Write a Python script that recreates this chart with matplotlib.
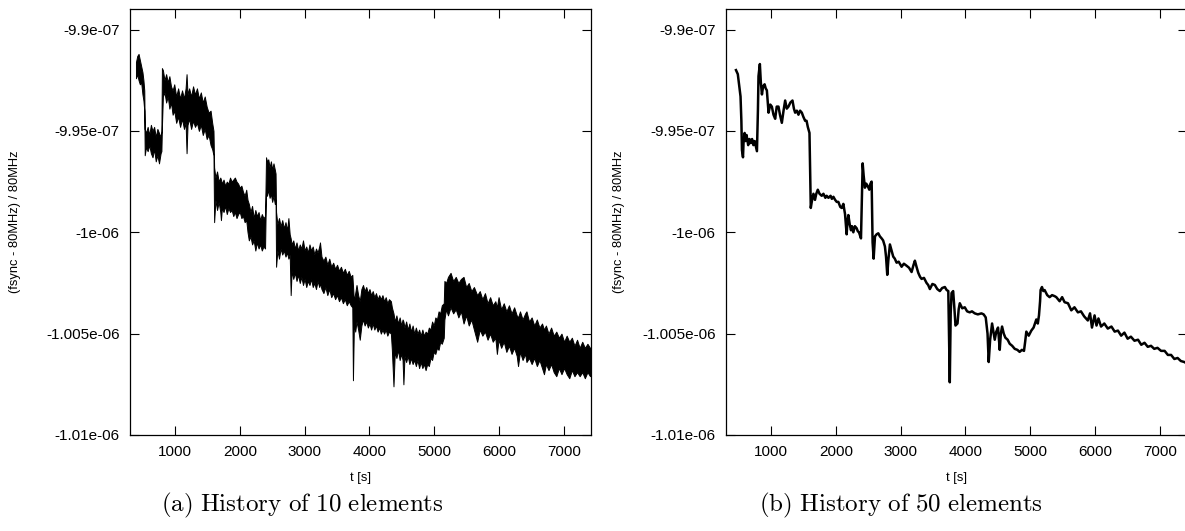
import numpy as np
import matplotlib
matplotlib.use('Agg')
import matplotlib.pyplot as plt
from matplotlib.ticker import FixedLocator

plt.rcParams['font.family'] = ['Liberation Sans', 'DejaVu Sans']
plt.rcParams['mathtext.fontset'] = 'cm'

SCALE = 1e-9  # values below are in units of 1e-9

# history of 10 elements: time and upper/lower edge of the noisy trace
t10 = [400, 420, 440, 460, 480, 500, 515, 528,
       535, 555, 580, 605, 630, 655, 680, 705, 730, 755, 780, 792,
       800,
       815, 840, 865, 890, 915, 940, 965, 990, 1020, 1050, 1080, 1110, 1140,
       1165, 1180, 1195, 1220, 1250, 1280, 1310, 1340, 1370, 1400, 1430, 1460,
       1490, 1520, 1550, 1575, 1595,
       1605, 1625, 1650, 1675, 1700, 1710, 1725, 1750, 1775, 1800, 1825, 1850,
       1875, 1900, 1925, 1950, 1975, 2000, 2025, 2050, 2075, 2100, 2120, 2140,
       2165, 2190, 2215, 2240, 2265, 2290, 2315, 2340, 2365, 2390,
       2405, 2420, 2440, 2460, 2480, 2500, 2520, 2540, 2552,
       2560, 2580, 2605, 2630, 2655, 2680, 2705, 2730, 2750, 2770, 2785, 2800,
       2825, 2850, 2875, 2900, 2925, 2950, 2975, 3000, 3025, 3050, 3075, 3100,
       3125, 3150, 3175, 3200, 3225, 3237, 3260, 3290, 3320, 3350, 3380, 3410,
       3440, 3470, 3500, 3530, 3560, 3590, 3620, 3650, 3680, 3710, 3735,
       3745,
       3760, 3780, 3800, 3825, 3850, 3875, 3900, 3925, 3950, 3975, 4000, 4025,
       4050, 4075, 4100, 4125, 4150, 4175, 4200, 4225, 4250, 4275, 4300, 4330,
       4345, 4370, 4390, 4415, 4440, 4465, 4490, 4510, 4523, 4540, 4565, 4590,
       4615, 4640, 4665, 4690, 4715, 4740, 4765, 4790, 4815, 4840, 4865, 4890,
       4915, 4940, 4965, 4990, 5015, 5040, 5065, 5090, 5115, 5145,
       5155, 5180, 5210, 5250, 5290, 5330, 5370, 5410, 5450, 5490, 5530, 5570,
       5610, 5660, 5700, 5740, 5780, 5820, 5860, 5900, 5940, 5964, 5990, 6030,
       6070, 6110, 6150, 6190, 6230, 6270, 6290, 6320, 6360, 6400, 6420, 6460,
       6500, 6540, 6580, 6620, 6660, 6690, 6720, 6760, 6800, 6840, 6880, 6920,
       6960, 7000, 7040, 7080, 7120, 7160, 7200, 7240, 7280, 7320, 7360, 7400]
hi10 = [-991.6, -991.3, -991.2, -991.5, -991.8, -992.1, -992.5, -993.0,
        -994.9, -995.1, -994.8, -995.2, -994.7, -995.0, -994.8, -995.3, -994.9,
        -995.1, -995.3, -995.0,
        -991.9,
        -992.0, -992.5, -992.2, -992.6, -992.3, -992.8, -993.0, -992.7, -993.3,
        -992.9, -993.4, -993.0, -993.4, -992.9, -992.2, -993.2, -992.9, -993.3,
        -992.8, -993.2, -992.9, -993.4, -993.1, -993.6, -993.3, -993.8, -994.1,
        -994.0, -994.6, -995.0,
        -996.8, -997.3, -997.0, -997.5, -997.3, -997.4, -997.6, -997.4, -997.7,
        -997.5, -997.6, -997.3, -997.5, -997.4, -997.3, -997.5, -997.6, -997.8,
        -997.7, -998.0, -998.2, -997.9, -998.4, -998.6, -999.0, -998.7, -999.3,
        -998.9, -999.2, -999.0, -999.4, -999.1, -999.3, -999.2,
        -996.3, -996.5, -996.4, -996.8, -996.5, -996.9, -996.6, -996.9, -997.1,
        -999.0, -999.6, -999.3, -999.7, -999.4, -999.8, -999.5, -999.9, -999.3,
        -1000.1, -1000.3, -1000.6, -1000.4, -1000.8, -1000.5, -1000.9, -1000.6,
        -1000.8, -1000.4, -1000.9, -1000.7, -1001.0, -1000.6, -1000.9, -1000.7,
        -1001.1, -1000.8, -1001.0, -1000.7, -1000.5, -1001.2, -1001.4, -1001.2,
        -1001.6, -1001.3, -1001.7, -1001.5, -1001.8, -1001.6, -1001.9, -1001.7,
        -1002.0, -1001.8, -1002.1, -1001.9, -1002.2, -1002.1,
        -1002.6,
        -1003.4, -1003.0, -1002.6, -1003.1, -1003.4, -1002.8, -1002.6, -1002.9,
        -1002.7, -1003.0, -1002.8, -1003.1, -1002.9, -1003.2, -1003.0, -1003.3,
        -1003.1, -1003.3, -1003.1, -1003.4, -1003.2, -1003.5, -1003.3, -1003.4,
        -1003.7, -1004.0, -1004.4, -1004.1, -1004.5, -1004.2, -1004.6, -1004.3,
        -1004.4, -1004.7, -1004.4, -1004.8, -1004.5, -1004.9, -1004.6, -1005.0,
        -1004.7, -1005.0, -1004.8, -1005.1, -1004.8, -1005.1, -1004.9, -1005.0,
        -1004.7, -1004.8, -1004.4, -1004.6, -1004.2, -1004.3, -1003.9, -1004.0,
        -1003.6, -1003.5,
        -1002.4, -1002.5, -1002.2, -1002.0, -1002.4, -1002.2, -1002.5, -1002.3,
        -1002.2, -1002.7, -1002.5, -1002.9, -1002.7, -1003.1, -1002.9, -1003.3,
        -1003.0, -1003.5, -1003.2, -1003.6, -1003.4, -1003.7, -1003.2, -1003.8,
        -1003.5, -1003.9, -1003.6, -1004.0, -1003.7, -1004.1, -1004.2, -1003.9,
        -1004.3, -1004.0, -1003.9, -1004.4, -1004.2, -1004.6, -1004.3, -1004.7,
        -1004.5, -1004.8, -1004.6, -1005.0, -1004.7, -1005.1, -1004.9, -1005.2,
        -1005.0, -1005.4, -1005.1, -1005.4, -1005.2, -1005.6, -1005.3, -1005.7,
        -1005.4, -1005.7, -1005.5, -1005.7]
lo10 = [-992.4, -992.2, -992.5, -992.7, -992.6, -993.2, -993.5, -994.0,
        -996.2, -995.8, -996.0, -995.7, -996.1, -996.3, -995.9, -996.5, -996.2,
        -996.6, -996.1, -996.0,
        -994.8,
        -993.3, -993.1, -993.6, -993.3, -993.9, -993.6, -994.2, -994.0, -994.6,
        -994.3, -994.8, -994.4, -994.9, -994.6, -996.1, -994.7, -994.4, -994.9,
        -994.5, -994.8, -994.6, -995.0, -994.7, -995.2, -994.9, -995.4, -995.2,
        -995.7, -995.9, -996.2,
        -999.5, -998.4, -998.9, -998.5, -999.0, -999.4, -998.8, -999.0, -998.7,
        -999.1, -998.8, -999.0, -998.9, -999.2, -999.0, -999.3, -999.1, -999.0,
        -999.3, -999.2, -999.5, -999.4, -1000.0, -1000.4, -1000.2, -1000.6,
        -1000.4, -1000.9, -1000.5, -1000.8, -1000.6, -1000.9, -1000.7, -1000.8,
        -997.9, -998.2, -997.9, -998.3, -998.1, -998.5, -998.2, -998.6, -998.4,
        -1001.7, -1000.9, -1001.3, -1000.8, -1001.1, -1000.9, -1001.2, -1001.0,
        -1001.3, -1001.1, -1003.1, -1001.9, -1002.3, -1002.0, -1002.4, -1002.1,
        -1002.5, -1002.2, -1002.6, -1002.3, -1002.7, -1002.4, -1002.6, -1002.3,
        -1002.7, -1002.5, -1002.8, -1002.4, -1002.7, -1002.5, -1002.8, -1003.0,
        -1002.7, -1003.1, -1002.8, -1003.2, -1003.0, -1003.3, -1003.1, -1003.4,
        -1003.2, -1003.5, -1003.3, -1003.6, -1003.4, -1003.6, -1003.7,
        -1007.3,
        -1004.5, -1004.9, -1004.4, -1004.8, -1005.3, -1004.6, -1004.3, -1004.6,
        -1004.4, -1004.7, -1004.5, -1004.8, -1004.5, -1004.8, -1004.6, -1004.9,
        -1004.7, -1005.0, -1004.8, -1005.0, -1004.8, -1005.1, -1004.9, -1005.0,
        -1005.8, -1007.6, -1005.9, -1006.2, -1005.8, -1006.3, -1006.0, -1006.3,
        -1007.5, -1006.1, -1006.4, -1006.1, -1006.5, -1006.2, -1006.5, -1006.3,
        -1006.6, -1006.3, -1006.7, -1006.4, -1006.7, -1006.5, -1006.8, -1006.5,
        -1006.6, -1006.2, -1006.3, -1005.9, -1006.0, -1005.7, -1005.8, -1005.4,
        -1005.5, -1005.2,
        -1004.3, -1003.8, -1004.1, -1003.7, -1004.0, -1003.8, -1004.2, -1003.9,
        -1004.5, -1004.1, -1004.6, -1004.3, -1004.8, -1005.4, -1004.8, -1005.1,
        -1004.9, -1005.3, -1005.0, -1005.4, -1005.2, -1006.0, -1005.3, -1005.7,
        -1005.4, -1005.9, -1005.6, -1006.0, -1005.7, -1006.1, -1006.6, -1005.9,
        -1006.3, -1006.0, -1006.4, -1006.2, -1006.5, -1006.2, -1006.6, -1006.3,
        -1006.7, -1007.0, -1006.5, -1006.8, -1006.5, -1006.9, -1007.1, -1006.7,
        -1007.0, -1006.7, -1007.0, -1007.2, -1006.8, -1007.1, -1006.9, -1007.1,
        -1006.9, -1007.2, -1006.9, -1007.1]

# history of 50 elements
t50 = [462, 490, 512, 532, 545, 554, 570, 578, 595, 610, 625, 650, 670, 690,
       710, 730, 750, 770, 785, 800, 809, 830, 845, 862, 880, 903, 920, 938,
       964, 990, 1015, 1040, 1066, 1090, 1117, 1140, 1169, 1195, 1220, 1245,
       1271, 1300, 1333, 1355, 1374, 1400, 1425, 1450, 1477, 1500, 1528, 1550,
       1569, 1595, 1605, 1615, 1630, 1656, 1680, 1700, 1723, 1750, 1784, 1810,
       1840, 1860, 1887, 1920, 1940, 1964, 1990, 2015, 2040, 2070, 2092, 2117,
       2143, 2168, 2180, 2194, 2215, 2235, 2250, 2271, 2295, 2322, 2340, 2358,
       2389, 2405, 2415, 2430, 2450, 2470, 2490, 2517, 2535, 2553, 2568, 2584,
       2605, 2630, 2656, 2680, 2707, 2730, 2758, 2775, 2794, 2810, 2835, 2860,
       2886, 2910, 2938, 2970, 3015, 3050, 3092, 3130, 3169, 3200, 3220, 3245,
       3272, 3300, 3323, 3360, 3400, 3425, 3451, 3490, 3528, 3565, 3605, 3640,
       3682, 3710, 3735, 3758, 3772, 3785, 3810, 3830, 3846, 3877, 3895, 3912,
       3950, 3989, 4025, 4066, 4100, 4143, 4190, 4246, 4280, 4312, 4340, 4358,
       4380, 4410, 4430, 4451, 4475, 4502, 4528, 4545, 4564, 4590, 4615, 4650,
       4682, 4720, 4759, 4800, 4835, 4870, 4902, 4920, 4938, 4975, 5015, 5050,
       5092, 5115, 5133, 5150, 5158, 5179, 5200, 5220, 5260, 5297, 5335, 5374,
       5400, 5451, 5490, 5528, 5580, 5631, 5680, 5733, 5780, 5830, 5886, 5920,
       5950, 5990, 6020, 6050, 6090, 6140, 6194, 6250, 6300, 6350, 6400, 6450,
       6500, 6550, 6605, 6660, 6710, 6760, 6810, 6860, 6910, 6960, 7015, 7070,
       7120, 7170, 7220, 7270, 7320, 7374, 7400]
y50 = [-992.0, -992.2, -992.8, -993.3, -994.5, -995.95, -996.3, -995.6, -995.1,
       -995.5, -995.2, -995.7, -995.4, -995.6, -995.4, -995.7, -995.5, -995.8,
       -996.0, -994.0, -992.3, -991.7, -992.6, -993.2, -992.8, -992.7, -992.9,
       -993.0, -994.1, -993.7, -993.8, -994.2, -994.4, -993.8, -993.8, -994.2,
       -994.6, -994.0, -993.5, -993.9, -993.8, -993.6, -993.5, -993.9, -994.1,
       -994.0, -994.2, -994.0, -994.1, -994.3, -994.5, -994.5, -994.8, -995.1,
       -997.0, -998.8, -998.5, -998.1, -998.4, -998.1, -997.9, -998.1, -998.2,
       -998.1, -998.3, -998.2, -998.3, -998.2, -998.35, -998.25, -998.4, -998.5,
       -998.5, -998.75, -998.8, -998.6, -999.1, -1000.1, -999.5, -999.15,
       -999.6, -999.9, -999.7, -1000.0, -999.7, -999.8, -999.95, -1000.0,
       -1000.3, -998.0, -996.6, -997.2, -997.8, -997.6, -997.7, -997.9, -997.6,
       -997.5, -1000.5, -1001.3, -1000.2, -1000.1, -1000.05, -1000.2, -1000.3,
       -1000.4, -1000.7, -1001.2, -1002.1, -1001.4, -1000.6, -1000.9, -1001.2,
       -1001.3, -1001.5, -1001.45, -1001.7, -1001.55, -1001.65, -1001.75,
       -1001.96, -1001.6, -1001.4, -1001.7, -1002.0, -1002.2, -1002.3,
       -1002.25, -1002.5, -1002.6, -1002.8, -1002.55, -1002.6, -1002.8,
       -1002.9, -1002.75, -1002.7, -1002.85, -1002.9, -1007.4, -1004.0,
       -1003.0, -1002.9, -1003.8, -1004.6, -1004.5, -1003.8, -1003.5,
       -1003.75, -1003.7, -1003.9, -1003.95, -1003.9, -1004.0, -1004.05,
       -1004.0, -1004.05, -1004.2, -1005.0, -1006.4, -1005.3, -1004.5,
       -1004.9, -1005.3, -1004.9, -1004.7, -1005.8, -1005.0, -1004.65,
       -1005.0, -1005.2, -1005.3, -1005.5, -1005.6, -1005.75, -1005.8,
       -1005.9, -1005.8, -1005.85, -1005.4, -1004.9, -1005.1, -1004.85,
       -1004.7, -1004.3, -1004.5, -1004.1, -1003.4, -1002.85, -1002.7,
       -1002.9, -1002.85, -1003.1, -1003.2, -1003.1, -1003.15,
       -1003.2, -1003.4, -1003.2, -1003.45, -1003.5, -1003.85, -1003.7,
       -1003.95, -1003.9, -1004.15, -1004.35, -1004.0, -1004.7, -1004.1,
       -1004.6, -1004.25, -1004.65, -1004.5, -1004.75, -1004.65, -1004.9,
       -1004.85, -1005.1, -1004.95, -1005.25, -1005.15, -1005.35, -1005.3,
       -1005.55, -1005.45, -1005.65, -1005.6, -1005.75, -1005.7, -1005.85,
       -1005.85, -1006.05, -1006.05, -1006.25, -1006.2, -1006.35, -1006.4,
       -1006.45]

xticks = [1000, 2000, 3000, 4000, 5000, 6000, 7000]
yticks = [-990, -995, -1000, -1005, -1010]
ytick_labels = ['-9.9e-07', '-9.95e-07', '-1e-06', '-1.005e-06', '-1.01e-06']
captions = ['(a) History of 10 elements', '(b) History of 50 elements']

assert len(t10) == len(hi10) == len(lo10)
assert len(t50) == len(y50)

W, H = 1185, 531
fig = plt.figure(figsize=(W / 100, H / 100), dpi=100)

# panel placement in pixels: left edge, top, width, height
boxes = [(130, 9.3, 461, 425.7), (726, 9.3, 461, 425.7)]
axes = []
for (x0, y0, w, h) in boxes:
    ax = fig.add_axes([x0 / W, 1 - (y0 + h) / H, w / W, h / H])
    axes.append(ax)

a, b = axes
a.fill_between(t10, np.array(lo10) * SCALE, np.array(hi10) * SCALE,
               facecolor='black', edgecolor='black', lw=0.7)
b.plot(t50, np.array(y50) * SCALE, color='black', lw=1.8)

for ax in axes:
    ax.set_xlim(308, 7415)
    ax.set_ylim(-1010 * SCALE, -989.0 * SCALE)
    ax.xaxis.set_major_locator(FixedLocator(xticks))
    ax.set_xticklabels([str(v) for v in xticks])
    ax.yaxis.set_major_locator(FixedLocator([v * SCALE for v in yticks]))
    ax.set_yticklabels(ytick_labels)
    ax.tick_params(direction='in', length=6.5, width=0.8, top=True,
                   right=True, labelsize=11, pad=7.5)
    for s in ax.spines.values():
        s.set_linewidth(0.9)

# axis labels and captions
for (x0, y0, w, h), ylx, cap_x, cap in zip(boxes, [15, 619], [302, 901], captions):
    fig.text((x0 + w / 2) / W, 1 - 478 / H, 't [s]', ha='center',
             va='center', fontsize=9.3)
    fig.text(ylx / W, 1 - 222 / H, '(fsync - 80MHz) / 80MHz', rotation=90,
             ha='center', va='center', fontsize=9.3)
    fig.text(cap_x / W, 1 - 505 / H,
             r'$\mathrm{' + cap.replace(' ', r'\ ') + '}$',
             ha='center', va='center', fontsize=18)

fig.savefig('out.png', dpi=100)
